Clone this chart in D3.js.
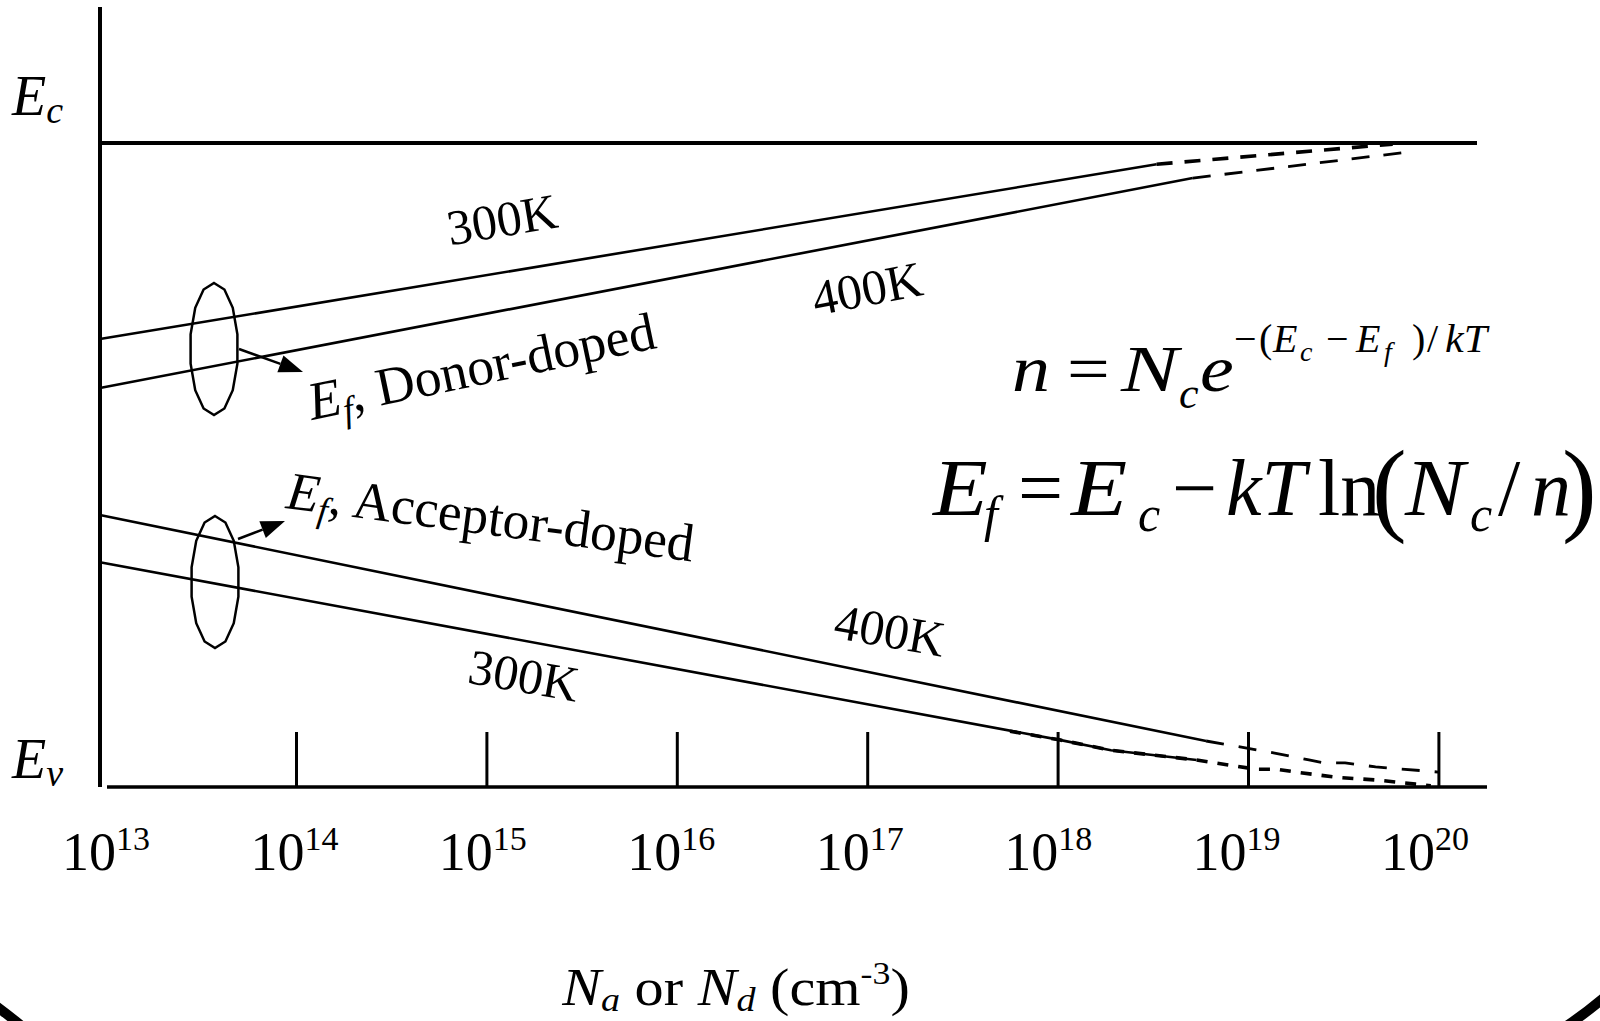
<!DOCTYPE html>
<html><head><meta charset="utf-8">
<script src="https://cdn.jsdelivr.net/npm/d3@7"></script>
<style>
html,body{margin:0;padding:0;background:#fff;}
svg{display:block;}
text{font-family:"Liberation Serif","Times New Roman",serif;fill:#000;}
</style></head><body>
<svg id="chart" width="1600" height="1021"></svg>
<script>
// ---------- data (x = log10 of doping in cm^-3, E = eV above Ev) ----------
const tickLabelExponents = [13, 14, 15, 16, 17, 18, 19, 20];
const tickMarkExponents = [14, 15, 16, 17, 18, 19, 20];

const donor300SolidLogN = [12.97, 18.52];
const donor300SolidE    = [0.779, 1.083];
const donor300DashLogN  = [18.52, 19.76];
const donor300DashE     = [1.083, 1.118];

const donor400SolidLogN = [12.97, 18.71];
const donor400SolidE    = [0.694, 1.059];
const donor400DashLogN  = [18.71, 19.81];
const donor400DashE     = [1.059, 1.103];

const acc400SolidLogN = [12.97, 18.78];
const acc400SolidE    = [0.473, 0.080];
const acc400DashLogN  = [18.78, 19.14, 19.32, 19.40, 19.51, 19.67, 20.00];
const acc400DashE     = [0.080, 0.059, 0.047, 0.042, 0.042, 0.035, 0.026];

const acc300SolidLogN = [12.97, 18.01, 18.28, 18.73];
const acc300SolidE    = [0.391, 0.082, 0.064, 0.047];
const acc300DashLogN  = [17.75, 18.01, 18.28, 18.73, 19.04, 19.15, 19.25, 19.46, 19.68, 19.88, 19.96];
const acc300DashE     = [0.097, 0.082, 0.064, 0.047, 0.031, 0.031, 0.026, 0.017, 0.012, 0.005, 0.002];

const bandGap = 1.12;

// ---------- setup ----------
const svg = d3.select("#chart");
const x = d3.scaleLog().domain([1e13, 1e20]).range([105.6, 1438.4]);
const xLabel = d3.scaleLog().domain([1e13, 1e20]).range([106, 1425]);
const y = d3.scaleLinear().domain([0, bandGap]).range([787, 143]);

const line = d3.line().x(d => x(Math.pow(10, d[0]))).y(d => y(d[1]));

// axes frame
svg.append("line").attr("x1", 100).attr("x2", 100).attr("y1", 7).attr("y2", y(0))
  .attr("stroke", "#000").attr("stroke-width", 4);
svg.append("line").attr("x1", 100).attr("x2", 1477).attr("y1", y(bandGap)).attr("y2", y(bandGap))
  .attr("stroke", "#000").attr("stroke-width", 4);
svg.append("line").attr("x1", 107).attr("x2", 1487).attr("y1", y(0)).attr("y2", y(0))
  .attr("stroke", "#000").attr("stroke-width", 3.5);

const axisG = svg.append("g").attr("transform", `translate(0,${y(0)})`)
  .call(d3.axisBottom(x).tickValues(tickMarkExponents.map(e => Math.pow(10, e)))
    .tickSize(-55).tickFormat(() => ""));
axisG.select(".domain").remove();
axisG.selectAll(".tick line").attr("stroke", "#000").attr("stroke-width", 3);

// tick labels 10^n
tickLabelExponents.forEach(e => {
  const t = svg.append("text").attr("x", xLabel(Math.pow(10, e))).attr("y", 870)
    .attr("text-anchor", "middle").attr("font-size", 54);
  t.append("tspan").text("10");
  t.append("tspan").attr("dy", -20).attr("font-size", 34).text(String(e));
});

// axis title
{
  const t = svg.append("text").attr("transform", "translate(736,1005) scale(1.12,1)")
    .attr("text-anchor", "middle").attr("font-size", 52);
  t.append("tspan").attr("font-style", "italic").text("N");
  t.append("tspan").attr("font-style", "italic").attr("font-size", 34).attr("dy", 6).text("a");
  t.append("tspan").attr("dy", -6).text(" or ");
  t.append("tspan").attr("font-style", "italic").text("N");
  t.append("tspan").attr("font-style", "italic").attr("font-size", 34).attr("dy", 6).text("d");
  t.append("tspan").attr("dy", -6).text(" (cm");
  t.append("tspan").attr("font-size", 32).attr("dy", -21).text("-3");
  t.append("tspan").attr("dy", 21).text(")");
}

// Ec / Ev labels
function bandLabel(main, sub, yb) {
  const t = svg.append("text").attr("x", 12).attr("y", yb).attr("font-size", 56).attr("font-style", "italic");
  t.append("tspan").text(main);
  t.append("tspan").attr("font-size", 38).attr("dy", 8).text(sub);
}
bandLabel("E", "c", 115);
bandLabel("E", "v", 778);

// data lines
function drawLine(lx, ly, w, dash) {
  svg.append("path").datum(d3.zip(lx, ly)).attr("d", line)
    .attr("fill", "none").attr("stroke", "#000").attr("stroke-width", w)
    .attr("stroke-dasharray", dash || null);
}
drawLine(donor300SolidLogN, donor300SolidE, 2.6);
drawLine(donor300DashLogN, donor300DashE, 3.6, "16,12");
drawLine(donor400SolidLogN, donor400SolidE, 2.6);
drawLine(donor400DashLogN, donor400DashE, 2.8, "18,14");
drawLine(acc400SolidLogN, acc400SolidE, 2.6);
drawLine(acc400DashLogN, acc400DashE, 2.8, "18,15");
drawLine(acc300SolidLogN, acc300SolidE, 2.6);
drawLine(acc300DashLogN, acc300DashE, 3.6, "11,10");

// ellipses (polygonal)
function ellipse(cx, cy, rx, ry) {
  const n = 14;
  const pts = d3.range(n).map(i => {
    const a = i / n * 2 * Math.PI;
    return [cx + rx * Math.sin(a), cy - ry * Math.cos(a)];
  });
  svg.append("path").attr("d", d3.line().curve(d3.curveLinearClosed)(pts))
    .attr("fill", "none").attr("stroke", "#000").attr("stroke-width", 2.5);
}
ellipse(214, 349, 24, 66);
ellipse(215, 582, 24, 66);

// arrows
function arrow(x1, y1, x2, y2) {
  const ang = Math.atan2(y2 - y1, x2 - x1);
  const L = 24, W = 9;
  const bx = x2 - L * Math.cos(ang), by = y2 - L * Math.sin(ang);
  svg.append("line").attr("x1", x1).attr("y1", y1).attr("x2", bx).attr("y2", by)
    .attr("stroke", "#000").attr("stroke-width", 2.5);
  const p = [[x2, y2],
    [bx + W * Math.sin(ang), by - W * Math.cos(ang)],
    [bx - W * Math.sin(ang), by + W * Math.cos(ang)]];
  svg.append("path").attr("d", d3.line().curve(d3.curveLinearClosed)(p)).attr("fill", "#000");
}
arrow(239, 349, 303, 372);
arrow(238, 539, 285, 521);

// rotated labels
function rotLabel(txt, cx, cy, ang, size) {
  svg.append("text").attr("transform", `translate(${cx},${cy}) rotate(${ang})`)
    .attr("text-anchor", "middle").attr("dy", "0.35em").attr("font-size", size).text(txt);
}
rotLabel("300K", 502, 219, -9.5, 50);
rotLabel("400K", 867, 288, -11, 50);
rotLabel("400K", 890, 630, 10, 50);
rotLabel("300K", 524, 675, 10, 50);

function efLabel(rest, sx, sy, ang, size, stretch) {
  const t = svg.append("text")
    .attr("transform", `translate(${sx},${sy}) rotate(${ang}) scale(${stretch},1)`).attr("font-size", size);
  t.append("tspan").attr("font-style", "italic").text("E");
  t.append("tspan").attr("font-style", "italic").attr("font-size", 36).attr("dy", 9).text("f");
  t.append("tspan").attr("dy", -9).text(rest);
}
efLabel(", Donor-doped", 312, 420, -11.8, 53.5, 1.0);
efLabel(", Acceptor-doped", 285, 508, 7.5, 53.5, 1.0);

// equations
function put(txt, px, py, size, italic, sx) {
  svg.append("text").attr("transform", `translate(${px},${py}) scale(${sx || 1},1)`)
    .attr("font-size", size).attr("font-style", italic ? "italic" : "normal").text(txt);
}
// n = N_c e^{-(E_c - E_f)/kT}
put("n", 1012, 391, 66, true, 1.15);
put("=", 1067, 391, 66, false, 1.15);
put("N", 1121, 391, 66, true, 1.3);
put("c", 1179, 408, 44, true);
put("e", 1200, 391, 66, true, 1.15);
put("\u2212", 1234, 352, 40, false);
put("(", 1259, 352, 40, false);
put("E", 1273, 352, 40, true);
put("c", 1300, 361, 28, true);
put("\u2212", 1326, 352, 40, false);
put("E", 1356, 352, 40, true);
put("f", 1384, 361, 28, true);
put(")", 1412, 352, 40, false);
put("/", 1427, 352, 40, false);
put("kT", 1445, 352, 40, true, 1.05);

// E_f = E_c - kT ln(N_c/n)
put("E", 933, 515, 80, true, 1.12);
put("f", 984, 531, 50, true);
put("=", 1018, 515, 80, false);
put("E", 1071, 515, 80, true, 1.15);
put("c", 1138, 531, 50, true);
put("\u2212", 1172, 515, 80, false);
put("kT", 1226, 515, 80, true);
put("ln", 1318, 515, 80, false);
put("(", 1372, 522, 104, false);
put("N", 1405, 515, 80, true, 1.12);
put("c", 1470, 531, 50, true);
put("/", 1498, 515, 80, false);
put("n", 1531, 515, 80, true);
put(")", 1562, 522, 104, false);

// slide border corners
svg.append("path").attr("d", "M -8,1003 Q 6,1013 24,1028")
  .attr("fill", "none").attr("stroke", "#000").attr("stroke-width", 10);
svg.append("path").attr("d", "M 1562,1029 Q 1585,1014 1606,996")
  .attr("fill", "none").attr("stroke", "#000").attr("stroke-width", 10);
</script>
</body></html>
